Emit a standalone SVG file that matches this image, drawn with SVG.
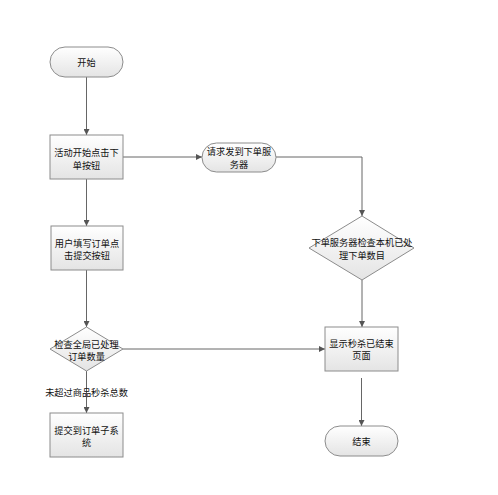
<svg xmlns="http://www.w3.org/2000/svg" width="498" height="495" viewBox="0 0 498 495">
<defs>
<linearGradient id="g" x1="0" y1="0" x2="0" y2="1">
<stop offset="0" stop-color="#ffffff"/>
<stop offset="1" stop-color="#e4e4e4"/>
</linearGradient>
<marker id="a" viewBox="0 0 10 10" refX="10" refY="5" markerWidth="6" markerHeight="6" orient="auto" markerUnits="userSpaceOnUse">
<path d="M0,0 L10,5 L0,10 z" fill="#555"/>
</marker>
</defs>
<style>
.s{fill:url(#g);stroke:#8c8c8c;stroke-width:1}
.t{font-family:"Noto Sans CJK SC","Liberation Sans",sans-serif;font-size:9.2px;fill:#111;text-anchor:middle}
.c{fill:none;stroke:#666;stroke-width:1;marker-end:url(#a)}
</style>
<rect width="498" height="495" fill="#fff"/>
<g id="connectors">
<path class="c" d="M86.5,77 V135"/>
<path class="c" d="M123,157 H202"/>
<path class="c" d="M276,157 H362 V216"/>
<path class="c" d="M86.5,179 V226"/>
<path class="c" d="M86.5,270 V327"/>
<path class="c" d="M123,349 H325"/>
<path class="c" d="M86.5,371 V413"/>
<path class="c" d="M362,280 V327"/>
<path class="c" d="M361.5,378 V426"/>
<text class="t" x="86.5" y="396">未超过商品秒杀总数</text>
</g>
<g id="start">
<rect class="s" x="50" y="47" width="73" height="30" rx="15"/>
<text class="t" x="86.5" y="65.5">开始</text>
</g>
<g id="click">
<rect class="s" x="50" y="135" width="73" height="44"/>
<text class="t" x="86.5" y="156">活动开始点击下</text>
<text class="t" x="86.5" y="168.5">单按钮</text>
</g>
<g id="request">
<rect class="s" x="202" y="143" width="74" height="29" rx="14.5"/>
<text class="t" x="239" y="155">请求发到下单服</text>
<text class="t" x="239" y="167.8">务器</text>
</g>
<g id="check-server">
<polygon class="s" points="362,216 414,248 362,280 309,248"/>
<text class="t" x="362" y="246">下单服务器检查本机已处</text>
<text class="t" x="362" y="258.5">理下单数目</text>
</g>
<g id="fill-order">
<rect class="s" x="51" y="226" width="72" height="44"/>
<text class="t" x="87" y="246.5">用户填写订单点</text>
<text class="t" x="87" y="259">击提交按钮</text>
</g>
<g id="check-global">
<polygon class="s" points="86.5,327 123,349 86.5,371 50,349"/>
<text class="t" x="86.5" y="347.5">检查全局已处理</text>
<text class="t" x="86.5" y="360">订单数量</text>
</g>
<g id="submit">
<rect class="s" x="50" y="413" width="73" height="44"/>
<text class="t" x="86.5" y="433.5">提交到订单子系</text>
<text class="t" x="86.5" y="446">统</text>
</g>
<g id="show-end">
<rect class="s" x="325" y="327" width="73" height="44"/>
<text class="t" x="361.5" y="346.5">显示秒杀已结束</text>
<text class="t" x="361.5" y="359">页面</text>
</g>
<g id="end">
<rect class="s" x="325" y="426" width="73" height="30" rx="15"/>
<text class="t" x="361.5" y="444.5">结束</text>
</g>
</svg>
